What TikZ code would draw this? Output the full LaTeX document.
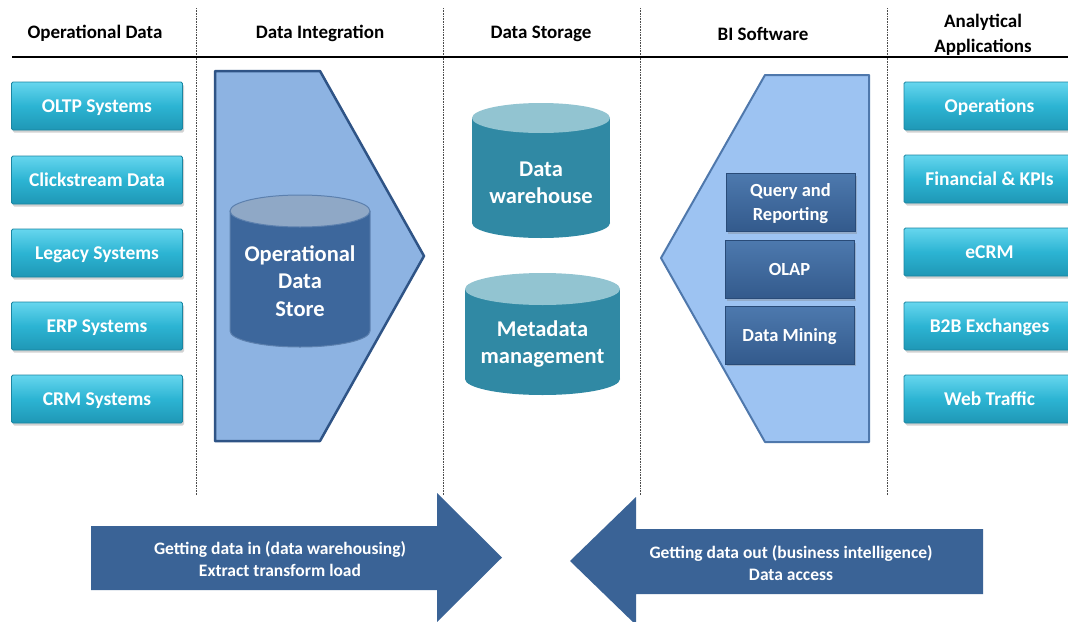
\documentclass[tikz,border=0pt]{standalone}
\usepackage{fontspec}
\setmainfont{Carlito}
\usetikzlibrary{shadows}
\definecolor{cyantop}{HTML}{66D6EE}
\definecolor{cyanmid}{HTML}{2CB4D3}
\definecolor{cyanbot}{HTML}{1F97B5}
\definecolor{cyanedge}{HTML}{1A86A2}
\definecolor{intfill}{HTML}{8DB3E2}
\definecolor{intedge}{HTML}{2F5486}
\definecolor{bifill}{HTML}{9DC3F2}
\definecolor{biedge}{HTML}{4F78AC}
\definecolor{odsbody}{HTML}{3D679C}
\definecolor{odstop}{HTML}{8FA8C6}
\definecolor{odsrim}{HTML}{5C80AE}
\definecolor{dkboxtop}{HTML}{4D79AE}
\definecolor{dkboxbot}{HTML}{335A8C}
\definecolor{dkboxedge}{HTML}{294B78}
\definecolor{tealbody}{HTML}{3089A4}
\definecolor{tealtop}{HTML}{92C4D1}
\definecolor{arrowc}{HTML}{3A6396}
\begin{document}
\begin{tikzpicture}[x=1pt,y=-1pt,
  header/.style={font=\bfseries\fontsize{19}{25}\selectfont, align=center, text=black},
  srcbox/.style={rounded corners=1.5pt, draw=cyanedge, line width=0.8pt,
    top color=cyantop, bottom color=cyanbot, middle color=cyanmid,
    minimum width=171pt, minimum height=48pt, text=white, text depth=0pt,
    font=\bfseries\fontsize{19.5}{22}\selectfont,
    drop shadow={shadow xshift=1.5pt, shadow yshift=-2.5pt, opacity=0.35}},
  bibox/.style={draw=dkboxedge, line width=0.8pt, top color=dkboxtop, bottom color=dkboxbot,
    minimum width=129pt, minimum height=58pt, text=white, align=center, text depth=0pt,
    font=\bfseries\fontsize{18.5}{24}\selectfont,
    drop shadow={shadow xshift=1.5pt, shadow yshift=-2pt, opacity=0.35}},
  cyltext/.style={text=white, align=center, font=\bfseries\fontsize{22.5}{27.5}\selectfont},
  arrtext/.style={text=white, align=center, font=\bfseries\fontsize{17.5}{21.5}\selectfont},
  divider/.style={densely dotted, line width=0.6pt, black!70}
]
\useasboundingbox (0,0) rectangle (1068,621);
\fill[white] (0,0) rectangle (1068,621);

% dividers
\foreach \xx/\nm in {196/d1,443/d2,640/d3,887/d4}{
  \coordinate (\nm top) at (\xx,8);
  \coordinate (\nm bot) at (\xx,495);
  \draw[divider] (\nm top) -- (\nm bot);
}
\coordinate (rulel) at (12,57);
\coordinate (ruler) at (1068,57);
\draw[line width=1.8pt] (rulel) -- (ruler);

% headers
\node[header] (h1) at (95,33.5) {Operational Data};
\node[header] (h2) at (320,33.5) {Data Integration};
\node[header] (h3) at (541,33.5) {Data Storage};
\node[header] (h4) at (763,33.5) {BI Software};
\node[header] (h5) at (983,35) {Analytical\\Applications};

% source boxes
\node[srcbox] (oltp) at (97,106) {OLTP Systems};
\node[srcbox] (click) at (97,180) {Clickstream Data};
\node[srcbox] (legacy) at (97,253) {Legacy Systems};
\node[srcbox] (erp) at (97,326) {ERP Systems};
\node[srcbox] (crm) at (97,399) {CRM Systems};

% application boxes
\node[srcbox] (ops) at (989.5,106) {Operations};
\node[srcbox] (fin) at (989.5,179) {Financial \& KPIs};
\node[srcbox] (ecrm) at (989.5,252) {eCRM};
\node[srcbox] (b2b) at (989.5,326) {B2B Exchanges};
\node[srcbox] (web) at (989.5,399) {Web Traffic};

% data integration pentagon
\draw[line width=2.5pt, draw=intedge, fill=intfill, line join=round]
  (215,71) -- (320,71) -- (424,256) -- (320,441) -- (215,441) -- cycle;

% ODS cylinder
\fill[odsbody] (230,211) rectangle (370,331);
\fill[odsbody] (300,331) ellipse[x radius=70, y radius=16];
\draw[odsrim, line width=1pt] (230,211) -- (230,331) arc[start angle=180, end angle=0, x radius=70, y radius=16] -- (370,211);
\fill[odstop] (300,211) ellipse[x radius=70, y radius=16];
\draw[odsrim, line width=1pt] (300,211) ellipse[x radius=70, y radius=16];
\node[cyltext] (ods) at (300,281) {Operational\\Data\\Store};

% data storage cylinders
\fill[tealbody] (472,118) rectangle (610,223);
\fill[tealbody] (541,223) ellipse[x radius=69, y radius=15];
\fill[tealtop] (541,118) ellipse[x radius=69, y radius=15];
\node[cyltext] (dw) at (541,183) {Data\\warehouse};

\fill[tealbody] (465,289) rectangle (620,379);
\fill[tealbody] (542.5,379) ellipse[x radius=77.5, y radius=16];
\fill[tealtop] (542.5,289) ellipse[x radius=77.5, y radius=16];
\node[cyltext] (meta) at (542.5,344) {Metadata\\management};

% BI pentagon
\draw[line width=2pt, draw=biedge, fill=bifill, line join=round]
  (869,75) -- (765,75) -- (661,258) -- (765,442) -- (869,442) -- cycle;
\node[bibox] (query) at (790.5,202.5) {Query and\\Reporting};
\node[bibox] (olap) at (789.5,269.5) {OLAP};
\node[bibox] (mining) at (789.5,335) {Data Mining};

% bottom arrows
\fill[arrowc] (91,526) -- (437,526) -- (437,493) -- (502,557.5) -- (437,622) -- (437,590) -- (91,590) -- cycle;
\node[arrtext] (inarrow) at (280,559) {Getting data in (data warehousing)\\Extract transform load};
\fill[arrowc] (983,529) -- (636,529) -- (636,497) -- (570,561) -- (636,625) -- (636,594) -- (983,594) -- cycle;
\node[arrtext] (outarrow) at (791,563) {Getting data out (business intelligence)\\Data access};
\end{tikzpicture}
\end{document}
